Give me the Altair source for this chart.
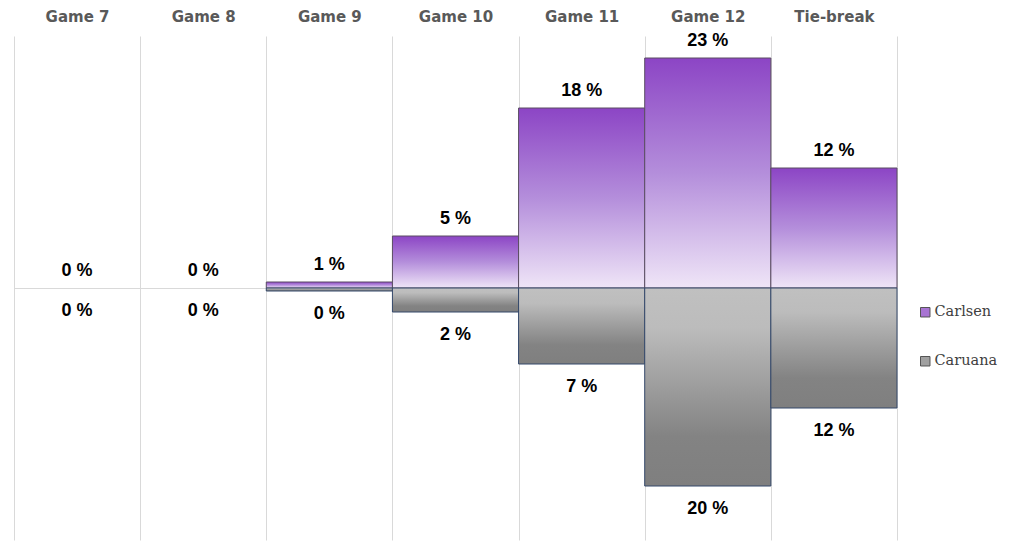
import altair as alt
import pandas as pd

games = ["Game 7", "Game 8", "Game 9", "Game 10", "Game 11", "Game 12", "Tie-break"]
carlsen = [0, 0, 0.6, 5.2, 18, 23, 12]
caruana = [0, 0, 0.3, 2.4, 7.6, 19.8, 12]
carlsen_labels = ["0 %", "0 %", "1 %", "5 %", "18 %", "23 %", "12 %"]
caruana_labels = ["0 %", "0 %", "0 %", "2 %", "7 %", "20 %", "12 %"]
players = ["Carlsen", "Caruana"]

df_c = pd.DataFrame({"game": games, "v": carlsen, "label": carlsen_labels})
df_r = pd.DataFrame({"game": games, "v": [-x for x in caruana], "label": caruana_labels})
df_leg = pd.DataFrame({"game": [games[0]] * 2, "v": [0, 0], "player": players})

xenc = alt.X("game:N", sort=games,
             scale=alt.Scale(paddingInner=0, paddingOuter=0),
             axis=alt.Axis(orient="top", title=None, labelAngle=0, ticks=False, domain=False,
                           grid=True, gridColor="#d9d9d9", gridWidth=1, tickBand="extent",
                           labelFont="DejaVu Sans", labelFontWeight="bold", labelFontSize=15,
                           labelColor="#595959", labelPadding=12))
yscale = alt.Scale(domain=[-25.2, 25.2], nice=False, zero=False)
yenc = alt.Y("v:Q", scale=yscale,
             axis=alt.Axis(title=None, values=[0], labels=False, ticks=False, domain=False,
                           grid=True, gridColor="#d9d9d9", gridWidth=1))

grad_c = alt.LinearGradient(gradient="linear", x1=0, x2=0, y1=0, y2=1, stops=[
    alt.GradientStop(color="#8c45c5", offset=0),
    alt.GradientStop(color="#b48edb", offset=0.5),
    alt.GradientStop(color="#efe5f7", offset=1)])
grad_r = alt.LinearGradient(gradient="linear", x1=0, x2=0, y1=0, y2=1, stops=[
    alt.GradientStop(color="#c0c0c0", offset=0),
    alt.GradientStop(color="#bcbcbc", offset=0.2),
    alt.GradientStop(color="#838383", offset=0.75),
    alt.GradientStop(color="#7f7f7f", offset=1)])

bars_c = alt.Chart(df_c).transform_filter("datum.v != 0").mark_bar(
    color=grad_c, stroke="#5a4d62", strokeWidth=1).encode(
    x=xenc, y=yenc, y2=alt.datum(0))
bars_r = alt.Chart(df_r).transform_filter("datum.v != 0").mark_bar(
    color=grad_r, stroke="#34486a", strokeWidth=1).encode(
    x=xenc, y=yenc, y2=alt.datum(0))

text_c = alt.Chart(df_c).mark_text(font="Liberation Sans", fontWeight="bold", fontSize=18,
                                   color="#000000", baseline="middle", dy=-17).encode(
    x=xenc, y=yenc, text="label:N")
text_r = alt.Chart(df_r).mark_text(font="Liberation Sans", fontWeight="bold", fontSize=18,
                                   color="#000000", baseline="middle", dy=23).encode(
    x=xenc, y=yenc, text="label:N")

legend_layer = alt.Chart(df_leg).mark_square(opacity=0).encode(
    x=xenc, y=yenc,
    color=alt.Color("player:N", scale=alt.Scale(domain=players, range=["#a874d3", "#a0a0a0"]),
                    legend=alt.Legend(title=None, orient="none", legendX=904, legendY=269,
                                      symbolType="square", symbolSize=90, symbolOpacity=1,
                                      symbolStrokeColor="#555555", symbolStrokeWidth=1,
                                      labelFont="DejaVu Serif", labelFontSize=14.5,
                                      labelColor="#404040", rowPadding=34, labelOffset=2)))

chart = alt.layer(bars_c, bars_r, text_c, text_r, legend_layer).properties(
    width=883, height=504,
    padding={"left": 14, "top": 36, "right": 116, "bottom": 15},
    autosize=alt.AutoSizeParams(type="none"),
    background="white",
).configure_view(stroke=None)

chart.save("out.html", embed_options={"renderer": "svg", "actions": False})
